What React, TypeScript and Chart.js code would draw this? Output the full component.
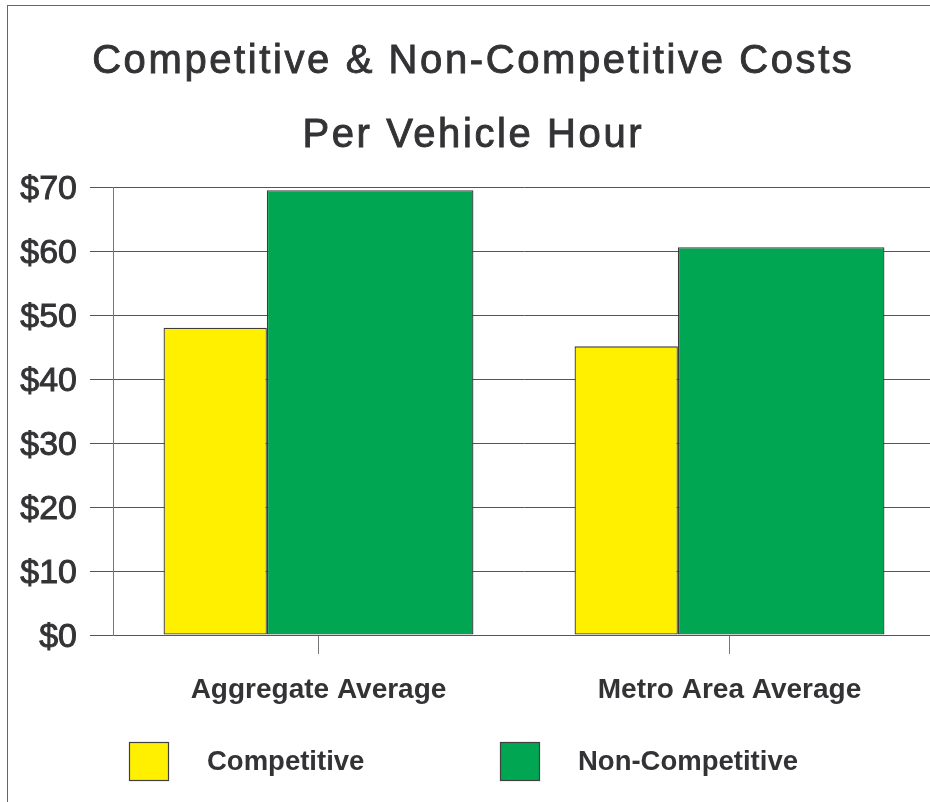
import React, { useEffect, useRef } from 'react';
import { Chart, registerables, BarController } from 'chart.js';

Chart.register(...registerables);

const categories = ['Aggregate Average', 'Metro Area Average'];
const seriesNames = ['Competitive', 'Non-Competitive'];
const competitive = [48, 45.1];
const nonCompetitive = [69.5, 60.6];
const seriesColors = ['#FFF000', '#00A651'];
const seriesWeights = [1, 2];
const yTickValues = [0, 10, 20, 30, 40, 50, 60, 70];
const yTickLabels = ['$0', '$10', '$20', '$30', '$40', '$50', '$60', '$70'];
const titleLines = ['Competitive & Non-Competitive Costs', 'Per Vehicle Hour'];

const FONT = '"Liberation Sans", Arial, Helvetica, sans-serif';
const TEXT = '#333336';
const LINE = '#555555';

// Bar controller whose bars in a group get widths proportional to a per-dataset weight.
class WeightedBarController extends BarController {
  static id = 'weightedBar';
  static defaults = BarController.defaults;
  static overrides = BarController.overrides;

  _calculateBarIndexPixels(index: number, ruler: any) {
    const scale = ruler.scale;
    const opts: any = (this as any).options;
    const meta: any = (this as any)._cachedMeta;
    const metas: any[] = meta.iScale.getMatchingVisibleMetas((this as any)._type);
    const chart: any = (this as any).chart;
    const weights = metas.map((m) => chart.data.datasets[m.index].slotWeight ?? 1);
    const total = weights.reduce((a: number, b: number) => a + b, 0);
    const pos = metas.findIndex((m) => m.index === (this as any).index);
    let before = 0;
    for (let i = 0; i < pos; i++) before += weights[i];
    const w = weights[pos] ?? 1;
    const catCenter = scale.getPixelForValue((this as any).getParsed(index)[scale.axis], index);
    const group = ruler.min * opts.categoryPercentage;
    const unit = group / total;
    const start = catCenter - group / 2 + before * unit;
    const center = start + (w * unit) / 2;
    const size = w * unit * opts.barPercentage;
    return { base: center - size / 2, head: center + size / 2, center, size };
  }
}
Chart.register(WeightedBarController);

const titlePlugin = {
  id: 'titleLines',
  afterDraw(chart: any) {
    const ctx = chart.ctx;
    ctx.save();
    ctx.fillStyle = TEXT;
    ctx.strokeStyle = TEXT;
    ctx.lineWidth = 0.9;
    ctx.font = `40px ${FONT}`;
    ctx.textAlign = 'center';
    ctx.textBaseline = 'alphabetic';
    const sp = 2.6;
    (ctx as any).letterSpacing = `${sp}px`;
    const cx = 472 + sp / 2;
    const ys = [73, 147];
    titleLines.forEach((t, i) => {
      ctx.fillText(t, cx, ys[i]);
      ctx.strokeText(t, cx, ys[i]);
    });
    ctx.restore();
  },
};

const legendPlugin = {
  id: 'boxLegend',
  afterDraw(chart: any) {
    const ctx = chart.ctx;
    const xs = [129, 500];
    const top = 742;
    const bw = 40;
    const bh = 39;
    ctx.save();
    chart.data.datasets.forEach((ds: any, i: number) => {
      ctx.fillStyle = ds.backgroundColor;
      ctx.fillRect(xs[i], top, bw, bh);
      ctx.strokeStyle = '#404040';
      ctx.lineWidth = 1.2;
      ctx.strokeRect(xs[i] + 0.5, top + 0.5, bw - 1, bh - 1);
      ctx.fillStyle = TEXT;
      ctx.font = `bold 27.5px ${FONT}`;
      ctx.textAlign = 'left';
      ctx.textBaseline = 'middle';
      ctx.fillText(ds.label, xs[i] + 78, top + bh / 2 + 1);
    });
    ctx.restore();
  },
};

export default function App() {
  const ref = useRef<HTMLCanvasElement>(null);
  useEffect(() => {
    if (!ref.current) return;
    const chart = new Chart(ref.current, {
      type: 'weightedBar' as any,
      data: {
        labels: categories,
        datasets: [
          {
            label: seriesNames[0],
            data: competitive,
            backgroundColor: seriesColors[0],
            borderColor: '#3c3c3c',
            borderWidth: 1.3,
            borderSkipped: false,
            slotWeight: seriesWeights[0],
          } as any,
          {
            label: seriesNames[1],
            data: nonCompetitive,
            backgroundColor: seriesColors[1],
            borderColor: '#3c3c3c',
            borderWidth: 1.3,
            borderSkipped: false,
            slotWeight: seriesWeights[1],
          } as any,
        ],
      },
      options: {
        responsive: false,
        animation: false,
        categoryPercentage: 0.754,
        barPercentage: 1,
        layout: { padding: { top: 187, right: 10, left: 0, bottom: 0 } },
        plugins: {
          legend: { display: false },
          title: { display: false },
          tooltip: { enabled: false },
        },
        scales: {
          x: {
            offset: true,
            grid: {
              offset: false,
              drawOnChartArea: false,
              drawTicks: true,
              tickLength: 19,
              color: '#777',
              lineWidth: 1,
            },
            border: { display: true, color: LINE, width: 1 },
            ticks: {
              font: { family: FONT, size: 28, weight: 'bold' },
              color: TEXT,
              padding: 19,
              maxRotation: 0,
              autoSkip: false,
            },
            afterFit: (s: any) => {
              s.height = 167;
            },
          },
          y: {
            min: 0,
            max: 70,
            afterBuildTicks: (s: any) => {
              s.ticks = yTickValues.map((v) => ({ value: v }));
            },
            ticks: {
              callback: (_v: any, i: number) => yTickLabels[i],
              font: { family: FONT, size: 34 },
              color: TEXT,
              textStrokeColor: TEXT,
              textStrokeWidth: 0.9,
              padding: 13,
              labelOffset: 3,
            },
            grid: { color: LINE, lineWidth: 1, tickLength: 23, drawTicks: true },
            border: { display: true, color: '#777', width: 1 },
            afterFit: (s: any) => {
              s.width = 113;
            },
          },
        },
      } as any,
      plugins: [titlePlugin, legendPlugin],
    });
    return () => chart.destroy();
  }, []);

  return (
    <div
      style={{
        position: 'fixed',
        left: 0,
        top: 0,
        width: 930,
        height: 802,
        overflow: 'hidden',
        background: '#fff',
      }}
    >
      <div
        style={{
          position: 'absolute',
          left: 7,
          top: 5,
          width: 2000,
          height: 2000,
          borderLeft: '1px solid #666',
          borderTop: '1px solid #666',
        }}
      />
      <canvas
        ref={ref}
        width={945}
        height={802}
        style={{ position: 'absolute', left: 0, top: 0, width: 945, height: 802 }}
      />
    </div>
  );
}
